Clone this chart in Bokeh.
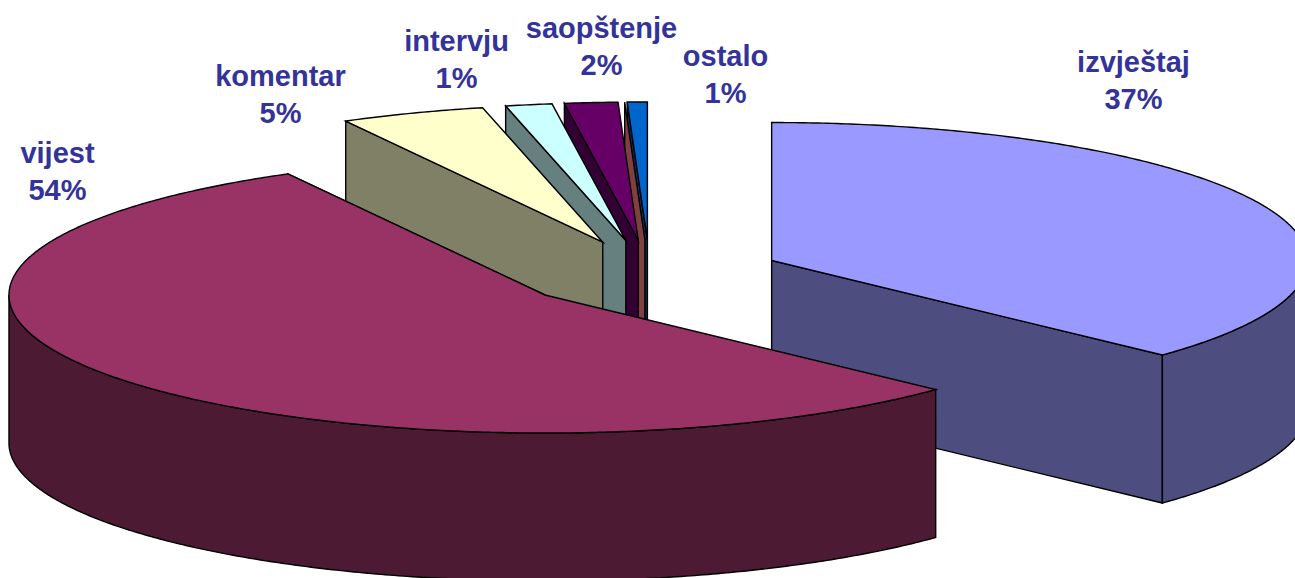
import numpy as np
from bokeh.core.properties import value
from bokeh.embed import file_html
from bokeh.models import Range1d
from bokeh.plotting import figure
from bokeh.resources import INLINE

# --- data (shares; clockwise from 12 o'clock) ---
categories = ["izvještaj", "vijest", "komentar", "intervju", "saopštenje", "", "ostalo"]
shares = [37.0, 55.04, 4.36, 1.4, 1.6, 0.0, 0.6]
percent_labels = ["37%", "54%", "5%", "1%", "2%", "", "1%"]

# --- style ---
top_colors = ["#9999FF", "#993366", "#FFFFCC", "#CCFFFF", "#660066", "#FF8080", "#0066CC"]
side_colors = ["#4D4D80", "#4D1A33", "#808066", "#668080", "#330033", "#804040", "#003366"]
LABEL_COLOR = "#333399"
LABEL_FONT = "Liberation Sans"
LABEL_SIZE = "29px"
EDGE = "#000000"
EDGE_W = 1.4

# --- layout ---
W, H = 1295, 578
CX, CY = 649.4, 273.6
RX, RY = 536.0, 138.0
DEPTH = 148.0
EXPLODE = 0.2475
LABEL_CENTERS = [(1133, 61), (57, 152), (280, 75), (456, 40), (601, 27), None, (725, 55)]
LINE_STEP = 37

p = figure(width=W, height=H, output_backend="svg", toolbar_location=None,
           x_range=Range1d(0, W), y_range=Range1d(H, 0), min_border=0,
           background_fill_color="white", border_fill_color="white",
           outline_line_color=None,
           styles={"position": "absolute", "left": "0px", "top": "0px"})
p.axis.visible = False
p.grid.visible = False


def poly(xs, ys, color):
    p.patch(list(xs), list(ys), fill_color=color, line_color=EDGE,
            line_width=EDGE_W, line_join="miter")


fractions = np.cumsum([0.0] + shares) / sum(shares)
starts = np.radians(fractions[:-1] * 360)
ends = np.radians(fractions[1:] * 360)
mids = (starts + ends) / 2
apex_x = CX + EXPLODE * RX * np.sin(mids)
apex_y = CY - EXPLODE * RY * np.cos(mids)


def rim(i, a, b):
    t = np.linspace(a, b, max(2, int(np.degrees(b - a)) * 2 + 2))
    return apex_x[i] + RX * np.sin(t), apex_y[i] - RY * np.cos(t)


def wall(i, angle):
    x0, y0 = apex_x[i], apex_y[i]
    x1, y1 = x0 + RX * np.sin(angle), y0 - RY * np.cos(angle)
    poly([x0, x1, x1, x0], [y0, y1, y1 + DEPTH, y0 + DEPTH], side_colors[i])


# back slices first: the small ones from the top, then the two large ones
order = [6, 5, 4, 3, 2, 0, 1]
for i in order:
    a, b = starts[i], ends[i]
    # left half: the wall at the start angle faces the viewer; right half: the end wall
    wall(i, a if a >= np.pi else b)
    lo, hi = max(a, np.pi / 2), min(b, 3 * np.pi / 2)
    if hi > lo:
        rx, ry = rim(i, lo, hi)
        poly(np.r_[rx, rx[::-1]], np.r_[ry, ry[::-1] + DEPTH], side_colors[i])
    if b > a:
        tx, ty = rim(i, a, b)
        poly(np.r_[apex_x[i], tx], np.r_[apex_y[i], ty], top_colors[i])

for name, pct, c in zip(categories, percent_labels, LABEL_CENTERS):
    if c is None:
        continue
    for txt, dy in ((name, 0), (pct, LINE_STEP)):
        p.text([c[0]], [c[1] + dy], text=[txt], text_align="center", text_baseline="middle",
               text_color=LABEL_COLOR, text_font=value(LABEL_FONT),
               text_font_size=LABEL_SIZE, text_font_style="bold")

open("out.html", "w").write(file_html(p, INLINE))
